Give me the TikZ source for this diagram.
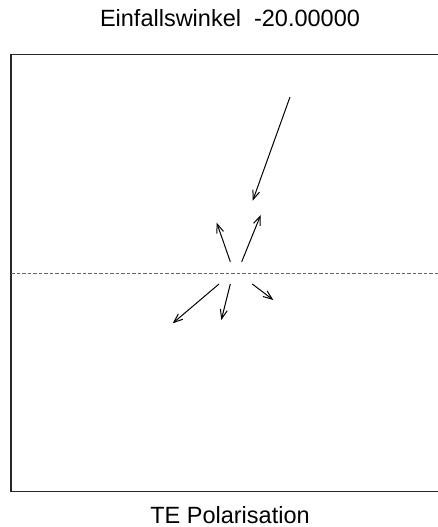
\documentclass[tikz,border=0pt]{standalone}
\usepackage{fontspec}
\setmainfont{Liberation Sans}
\usepackage{tikz}
\usetikzlibrary{positioning, arrows.meta}

\begin{document}
\begin{tikzpicture}[
        x=1pt, y=-1pt,
        every node/.style={
            font=\fontsize{23.5}{28}\selectfont,
            inner sep=0pt
        },
        frame/.style={
            line width=1.3pt,
            draw=black!85
        },
        interface/.style={
            line width=1pt,
            draw=black!60,
            dash pattern=on 3.5pt off 2pt
        },
        ray/.style={
            -{Straight Barb[length=9pt, width=7pt]},
            line width=1pt
        }
    ]

    \useasboundingbox (0,0) rectangle (438,527);

    % Rahmen und Grenzflaeche

    \draw[frame] (438,54.3) -- (11,54.3) -- (11,491.3) -- (438,491.3);
    \coordinate (ifleft) at (11,273);
    \coordinate (ifright) at (438,273);
    \draw[interface] (ifleft) -- (ifright);

    % Beschriftung

    \node[anchor=base] (title) at (230,26.7) {Einfallswinkel\ \ -20.00000};
    \node[anchor=base] (pol) at (230,523.3) {TE Polarisation};

    % Einfallender Strahl

    \coordinate (instart) at (290,97);
    \coordinate (inend) at (252.7,200.7);
    \draw[ray] (instart) -- (inend);

    % Reflektierte Strahlen

    \coordinate (reflAstart) at (241.7,261.7);
    \coordinate (reflAend) at (260.7,215);
    \coordinate (reflBstart) at (230.3,261.7);
    \coordinate (reflBend) at (216.7,222.7);
    \draw[ray] (reflAstart) -- (reflAend);
    \draw[ray] (reflBstart) -- (reflBend);

    % Transmittierte Strahlen

    \coordinate (transAstart) at (219,284);
    \coordinate (transAend) at (172.7,323.3);
    \coordinate (transBstart) at (230.3,284);
    \coordinate (transBend) at (221.3,320);
    \coordinate (transCstart) at (252.3,284);
    \coordinate (transCend) at (273.3,300);
    \draw[ray] (transAstart) -- (transAend);
    \draw[ray] (transBstart) -- (transBend);
    \draw[ray] (transCstart) -- (transCend);

\end{tikzpicture}
\end{document}
